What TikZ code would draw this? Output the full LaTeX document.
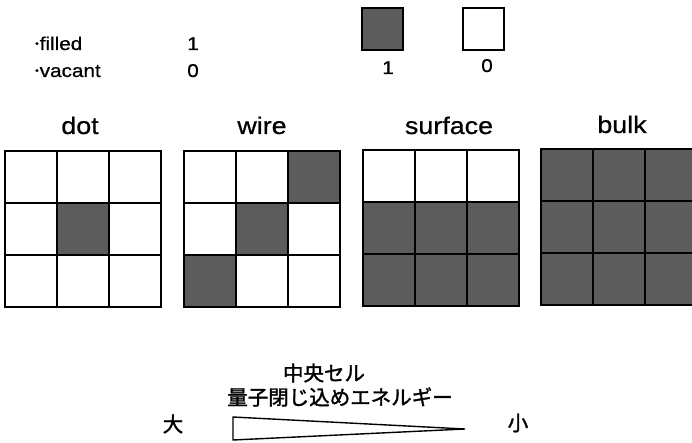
\documentclass[tikz,border=0pt]{standalone}
\usepackage{fontspec}
\setmainfont{Liberation Sans}[FakeStretch=1.12, FakeBold=0.7]
\newfontfamily\jp{Noto Sans CJK JP}[FakeBold=1.6]
\definecolor{fillc}{gray}{0.36}
\newcommand\qgrid[3]{%
  \foreach \c/\r in {#3} {\fill[fillc] ({#1+\c*52},{#2+\r*52}) rectangle +(52,52);}
  \foreach \k in {0,...,3} {%
    \draw[gl] ({#1+\k*52},#2) -- +(0,156);
    \draw[gl] (#1,{#2+\k*52}) -- +(156,0);}
}
\newcommand\bul{\raisebox{0.35ex}{\fontsize{9}{9}\selectfont\textbullet}\kern1pt}
\begin{document}
\begin{tikzpicture}[x=1pt,y=-1pt,
  gl/.style={line width=1.8pt, line cap=rect},
  big/.style={font=\fontsize{24}{28}\selectfont, inner sep=0, anchor=base},
  small/.style={font=\fontsize{18.5}{22}\selectfont, inner sep=0, anchor=base},
  jtext/.style={font=\jp\fontsize{20.5}{24}\selectfont, inner sep=0}]
\useasboundingbox (0,0) rectangle (692,443);
\clip (0,0) rectangle (692,443);
% legend
\node[small, anchor=base west] (filled) at (35,50) {\bul filled};
\node[small, anchor=base west] (vacant) at (35,77) {\bul vacant};
\node[small] (one) at (193,50) {1};
\node[small] (zero) at (193,77) {0};
\fill[fillc] (362,8) rectangle (403,50);
\draw[line width=1.5pt] (362,8) rectangle (403,50);
\draw[line width=1.5pt] (463,8) rectangle (504,50);
\node[small] (oneb) at (388,74) {1};
\node[small] (zerob) at (487,72) {0};
% grids
\node[big] (dot) at (80,134) {dot};
\node[big] (wire) at (262,134) {wire};
\node[big] (surface) at (449,134) {surface};
\node[big] (bulk) at (622,133) {bulk};
\qgrid{5}{151}{1/1}
\qgrid{184}{151}{2/0,1/1,0/2}
\qgrid{363}{150}{0/1,1/1,2/1,0/2,1/2,2/2}
\qgrid{541}{149}{0/0,1/0,2/0,0/1,1/1,2/1,0/2,1/2,2/2}
% energy
\node[jtext] (cc) at (324,373) {中央セル};
\node[jtext] (qe) at (340,397) {量子閉じ込めエネルギー};
\node[jtext] (dai) at (173,424) {大};
\node[jtext] (sho) at (518,423) {小};
\coordinate (ta) at (233,417);
\coordinate (tb) at (233,440);
\coordinate (tc) at (465,429);
\draw[line width=1.4pt, line join=miter] (ta) -- (tc) -- (tb) -- cycle;
\end{tikzpicture}
\end{document}
